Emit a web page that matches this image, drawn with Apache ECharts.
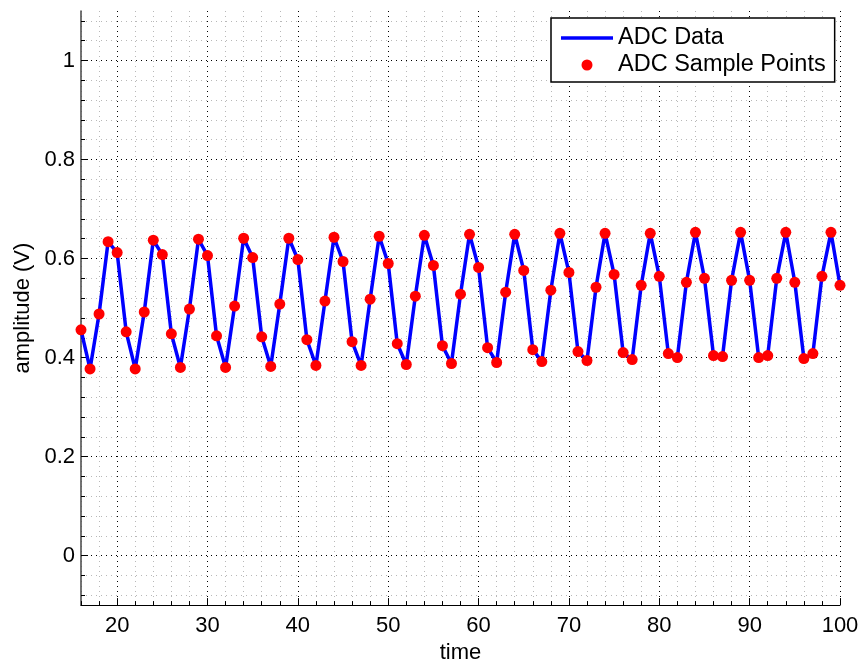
<!DOCTYPE html>
<html><head><meta charset="utf-8">
<script src="https://cdn.jsdelivr.net/npm/echarts@6/dist/echarts.min.js"></script>
<style>html,body{margin:0;padding:0;background:#fff}#c{width:864px;height:669px}</style>
</head><body><div id="c"></div>
<script>
const times = [16,17,18,19,20,21,22,23,24,25,26,27,28,29,30,31,32,33,34,35,36,37,38,39,40,
  41,42,43,44,45,46,47,48,49,50,51,52,53,54,55,56,57,58,59,60,61,62,63,64,65,66,67,68,69,70,
  71,72,73,74,75,76,77,78,79,80,81,82,83,84,85,86,87,88,89,90,91,92,93,94,95,96,97,98,99,100];
const adcValues = [
  0.456,0.377,0.488,0.634,0.612,
  0.452,0.377,0.492,0.637,0.608,
  0.448,0.380,0.498,0.639,0.606,
  0.444,0.380,0.504,0.641,0.602,
  0.442,0.382,0.508,0.641,0.598,
  0.436,0.384,0.514,0.643,0.594,
  0.432,0.384,0.518,0.645,0.590,
  0.428,0.386,0.524,0.647,0.586,
  0.424,0.388,0.528,0.649,0.582,
  0.420,0.390,0.532,0.649,0.576,
  0.416,0.392,0.536,0.651,0.572,
  0.412,0.394,0.542,0.651,0.568,
  0.410,0.396,0.546,0.651,0.564,
  0.408,0.400,0.552,0.653,0.560,
  0.404,0.402,0.556,0.653,0.556,
  0.400,0.404,0.560,0.653,0.552,
  0.398,0.408,0.564,0.653,0.546];
const xMajorTicks = [20,30,40,50,60,70,80,90,100];
const yMajorTicks = [0,0.2,0.4,0.6,0.8,1];
const seriesNames = ['ADC Data','ADC Sample Points'];

const xMinorTicks = [];
for (let v = 16; v <= 100; v += 2) if (xMajorTicks.indexOf(v) < 0) xMinorTicks.push(v);
const yMinorTicks = [];
for (let k = -2; k <= 27; k++) {
  const v = Math.round(k * 0.04 * 1000) / 1000;
  if (!yMajorTicks.some(m => Math.abs(m - v) < 1e-9)) yMinorTicks.push(v);
}

const FONT = '"Liberation Sans", Arial, Helvetica, sans-serif';
const pts = times.map((t, i) => [t, adcValues[i]]);

const chart = echarts.init(document.getElementById('c'), null, {renderer: 'canvas'});
chart.setOption({
  animation: false,
  backgroundColor: '#fff',
  grid: {left: 81, right: 24, top: 11, bottom: 60, containLabel: false},
  legend: {
    orient: 'vertical', left: 551, top: 18,
    backgroundColor: '#fff', borderColor: '#000', borderWidth: 1.5, borderRadius: 0,
    padding: [8, 9, 5, 10], itemGap: 3, itemWidth: 52, itemHeight: 11,
    textStyle: {fontSize: 23.5, lineHeight: 23, color: '#000', fontFamily: FONT},
    data: [
      {name: seriesNames[0], icon: 'path://M0,0L52,0L52,3.5L0,3.5Z'},
      {name: seriesNames[1], icon: 'circle'}
    ]
  },
  xAxis: [
    {
      type: 'value', min: 16, max: 100, position: 'bottom',
      name: 'time', nameLocation: 'middle', nameGap: 33,
      nameTextStyle: {fontSize: 22, color: '#000', fontFamily: FONT},
      axisLine: {show: true, onZero: false, lineStyle: {color: '#000', width: 1.2}},
      axisTick: {show: true, inside: true, length: 7, customValues: xMajorTicks, lineStyle: {color: '#000', width: 1}},
      axisLabel: {customValues: xMajorTicks, fontSize: 22, color: '#000', margin: 10, fontFamily: FONT},
      splitLine: {show: true, lineStyle: {type: [1, 4], color: '#000', width: 1}}
    },
    {
      type: 'value', min: 16, max: 100, position: 'bottom',
      axisLine: {show: false, onZero: false},
      axisTick: {show: true, inside: true, length: 4, customValues: xMinorTicks, lineStyle: {color: '#000', width: 1}},
      axisLabel: {show: false},
      splitLine: {show: true, lineStyle: {type: [1, 4], color: '#b8b8b8', width: 1}}
    }
  ],
  yAxis: [
    {
      type: 'value', min: -0.1, max: 1.1, position: 'left',
      name: 'amplitude (V)', nameLocation: 'middle', nameGap: 46,
      nameTextStyle: {fontSize: 22, color: '#000', fontFamily: FONT},
      axisLine: {show: true, onZero: false, lineStyle: {color: '#444', width: 1.5}},
      axisTick: {show: true, inside: true, length: 7, customValues: yMajorTicks, lineStyle: {color: '#000', width: 1}},
      axisLabel: {customValues: yMajorTicks, fontSize: 22, color: '#000', margin: 6, fontFamily: FONT},
      splitLine: {show: true, lineStyle: {type: [1, 4], color: '#000', width: 1}}
    },
    {
      type: 'value', min: -0.1, max: 1.1, position: 'left',
      axisLine: {show: false, onZero: false},
      axisTick: {show: true, inside: true, length: 4, customValues: yMinorTicks, lineStyle: {color: '#000', width: 1}},
      axisLabel: {show: false},
      splitLine: {show: true, lineStyle: {type: [1, 4], color: '#b8b8b8', width: 1}}
    }
  ],
  series: [
    {
      name: seriesNames[0], type: 'line', xAxisIndex: 0, yAxisIndex: 0,
      data: pts, symbol: 'none', lineStyle: {color: '#0000ff', width: 3.5},
      itemStyle: {color: '#0000ff'}, z: 2
    },
    {
      name: seriesNames[1], type: 'scatter', xAxisIndex: 0, yAxisIndex: 0,
      data: pts, symbol: 'circle', symbolSize: 11,
      itemStyle: {color: '#ff0000', opacity: 1}, z: 3
    }
  ]
});
</script>
</body></html>
